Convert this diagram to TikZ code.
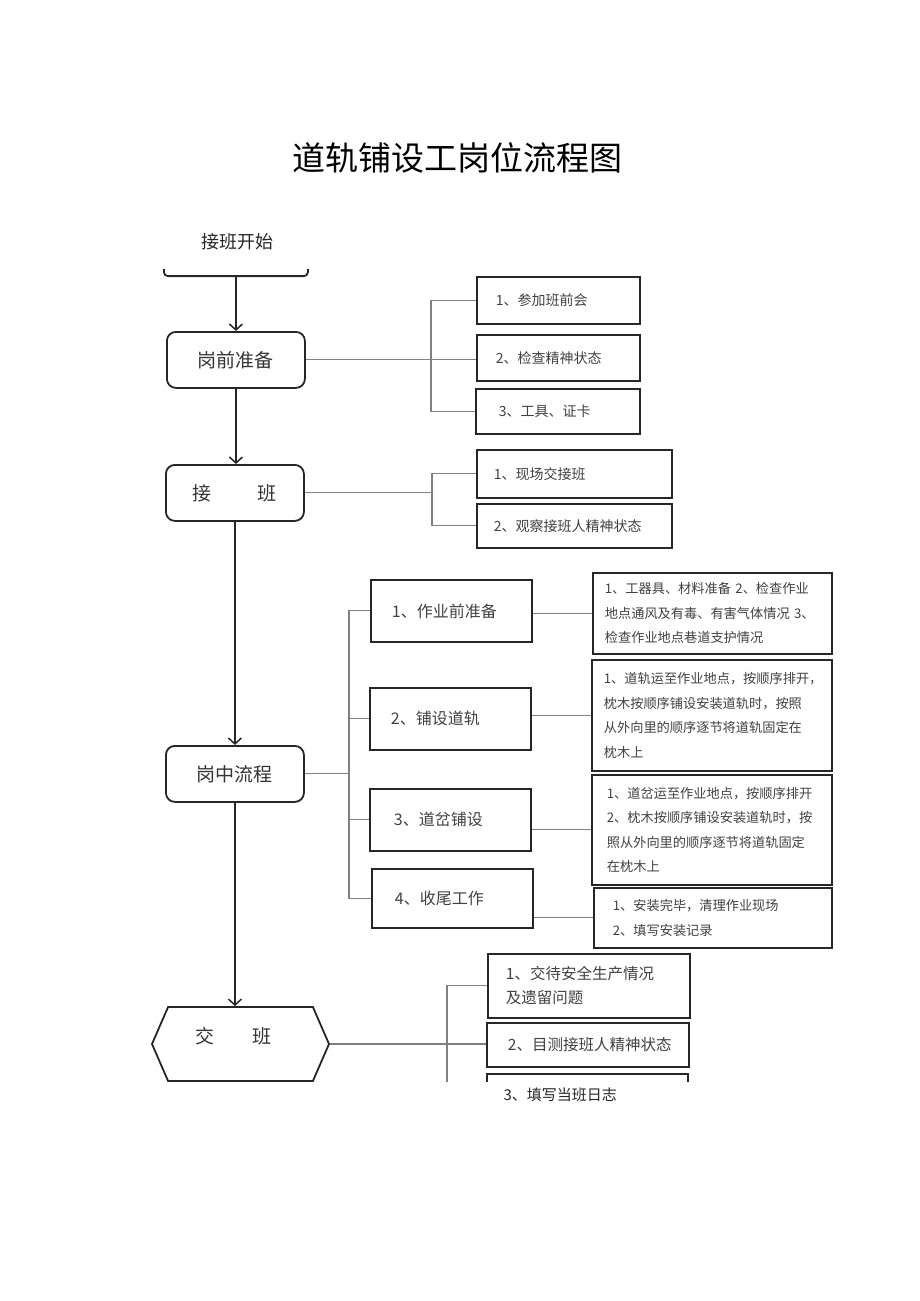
\documentclass[tikz,border=0pt]{standalone}
\usepackage{fontspec}
\setmainfont{Noto Sans CJK SC}
\usetikzlibrary{positioning, calc, arrows.meta, shapes.symbols}

\begin{document}
\begin{tikzpicture}[
        x=1pt, y=-1pt,
        flowbox/.style={draw=black!85, line width=1.8pt, rounded corners=9pt, minimum width=138, minimum height=56,
                        inner sep=0pt, font=\fontsize{19}{22}\selectfont, text=black!80},
        itembox/.style={draw=black!85, line width=1.8pt, anchor=north west, inner ysep=0pt, inner xsep=19pt,
                        align=left, font=\fontsize{14}{18}\selectfont, text=black!75},
        stagebox/.style={draw=black!85, line width=1.8pt, anchor=north west, minimum width=161, minimum height=62,
                         inner ysep=0pt, inner xsep=21pt, text width=119pt, align=left,
                         font=\fontsize{16}{20}\selectfont, text=black!75},
        notebox/.style={draw=black!85, line width=1.8pt, anchor=north west, inner ysep=0pt, inner xsep=12pt,
                        align=left, font=\fontsize{13.2}{24.5}\selectfont, text=black!75},
        handbox/.style={draw=black!85, line width=1.8pt, anchor=north west, inner ysep=0pt, inner xsep=18pt,
                        align=left, font=\fontsize{15.5}{24}\selectfont, text=black!75},
        link/.style={draw=black!50, line width=1.1pt},
        flow/.style={draw=black!85, line width=1.5pt, -{Straight Barb[length=6pt, width=13pt, line width=1.5pt]}},
    ]
    \useasboundingbox (0,0) rectangle (920,1301);

    % title and start
    \node[font=\fontsize{33}{40}\selectfont] (title) at (457,158) {道轨铺设工岗位流程图};
    \node[font=\fontsize{18}{22}\selectfont, text=black!85] (starttxt) at (237,242) {接班开始};
    \begin{scope}
        \clip (0,269) rectangle (920,300);
        \node[draw=black!85, line width=1.8pt, rounded corners=4pt, minimum width=144, minimum height=47,
              anchor=south west, inner sep=0pt] (start) at (163,277) {};
    \end{scope}

    % main column
    \node[flowbox, anchor=north west] (prep) at (166,331) {岗前准备};
    \node[flowbox, anchor=north west] (shift) at (165,464) {接\hspace{46pt}班};
    \node[flowbox, anchor=north west] (mid) at (165,745) {岗中流程};
    \node[signal, signal to=west and east, signal pointer angle=133, draw=black!85, line width=1.8pt,
          minimum width=177, minimum height=74, inner sep=0pt] (hand) at (240.5,1044) {};
    \node[font=\fontsize{19}{22}\selectfont, text=black!80] (handtxt) at (233,1036) {交\hspace{38pt}班};

    \draw[flow] (start.south -| prep.north) -- (prep.north);
    \draw[flow] (prep.south) -- (prep.south |- shift.north);
    \draw[flow] (shift.south) -- (mid.north);
    \draw[flow] (mid.south) -- (mid.south |- hand.north);

    % before the shift
    \node[itembox, minimum width=163, minimum height=47, text width=125pt] (pre1) at (476,276) {1、参加班前会};
    \node[itembox, minimum width=163, minimum height=46, text width=125pt] (pre2) at (476,334) {2、检查精神状态};
    \node[itembox, minimum width=164, minimum height=45, inner xsep=23pt, text width=118pt] (pre3) at (475,388) {3、工具、证卡};
    \coordinate (prebar) at (431,0);
    \draw[link] (prep.east) -- (prep.east -| pre2.west);
    \draw[link] (pre1.west) -- (pre1.west -| prebar) |- (pre3.west);

    % taking over
    \node[itembox, minimum width=195, minimum height=48, inner xsep=17pt, text width=161pt] (take1) at (476,449) {1、现场交接班};
    \node[itembox, minimum width=195, minimum height=44, inner xsep=17pt, text width=161pt] (take2) at (476,503) {2、观察接班人精神状态};
    \coordinate (takebar) at (432,0);
    \draw[link] (shift.east) -- (shift.east -| takebar);
    \draw[link] (take1.west) -- (take1.west -| takebar) |- (take2.west);

    % work stages
    \node[stagebox] (stage1) at (370,579) {1、作业前准备};
    \node[stagebox] (stage2) at (369,687) {2、铺设道轨};
    \node[stagebox, inner xsep=24pt, text width=113pt] (stage3) at (369,788) {3、道岔铺设};
    \node[stagebox, minimum height=59, inner xsep=22pt, text width=115pt] (stage4) at (371,868) {4、收尾工作};
    \coordinate (stagebar) at (349,0);
    \draw[link] (mid.east) -- (mid.east -| stagebar);
    \draw[link] (stage1.west) -- (stage1.west -| stagebar) |- (stage4.west);
    \draw[link] (stage2.west) -- (stage2.west -| stagebar);
    \draw[link] (stage3.west) -- (stage3.west -| stagebar);

    \node[notebox, minimum width=239, minimum height=81, text width=215pt] (note1) at (592,572)
        {1、工器具、材料准备 2、检查作业\\地点通风及有毒、有害气体情况 3、\\检查作业地点巷道支护情况};
    \node[notebox, minimum width=240, minimum height=111, text width=216pt] (note2) at (591,659)
        {1、道轨运至作业地点，按顺序排开，\\枕木按顺序铺设安装道轨时，按照\\从外向里的顺序逐节将道轨固定在\\枕木上};
    \node[notebox, minimum width=240, minimum height=110, inner xsep=15pt, text width=210pt] (note3) at (591,774)
        {1、道岔运至作业地点，按顺序排开\\2、枕木按顺序铺设安装道轨时，按\\照从外向里的顺序逐节将道轨固定\\在枕木上};
    \node[notebox, minimum width=238, minimum height=60, inner xsep=19pt, text width=200pt] (note4) at (593,887)
        {1、安装完毕，清理作业现场\\2、填写安装记录};
    \draw[link] (note1.west) -- (note1.west -| stage1.east);
    \draw[link] (note2.west) -- (note2.west -| stage2.east);
    \draw[link] (note3.west) -- (note3.west -| stage3.east);
    \draw[link] (note4.west) -- (note4.west -| stage4.east);

    % handing over
    \node[handbox, minimum width=202, minimum height=64, text width=166pt] (hand1) at (487,953) {1、交待安全生产情况\\及遗留问题};
    \node[handbox, minimum width=202, minimum height=44, inner xsep=21pt, text width=160pt] (hand2) at (486,1022) {2、目测接班人精神状态};
    \coordinate (handbar) at (447,0);
    \draw[link] (hand.east) -- (hand.east -| hand2.west);
    \begin{scope}
        \clip (0,900) rectangle (920,1081.5);
        \node[handbox, minimum width=201, minimum height=44, text width=165pt] (hand3) at (486,1073) {};
        \draw[link] (hand1.west) -- (hand1.west -| handbar) |- (hand3.west);
    \end{scope}
    \node[anchor=west, font=\fontsize{15}{18}\selectfont, text=black!85] (hand3txt) at (500,1095) {3、填写当班日志};
\end{tikzpicture}
\end{document}
